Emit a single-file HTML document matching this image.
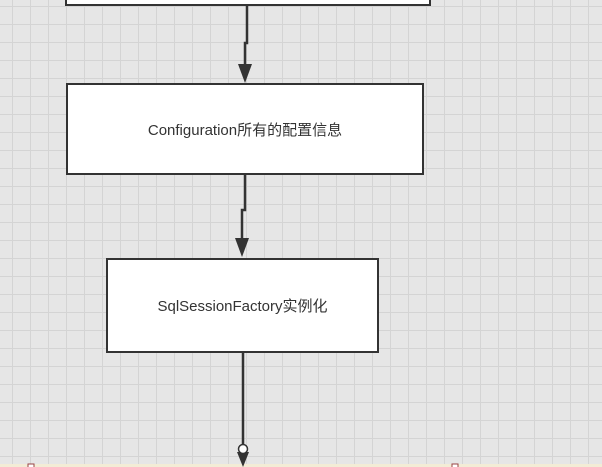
<!DOCTYPE html>
<html><head><meta charset="utf-8"><style>
body{margin:0;width:602px;height:467px;overflow:hidden;background:#e6e6e6;
background-image:linear-gradient(#d4d4d4 1px,transparent 1px),linear-gradient(90deg,#d4d4d4 1px,transparent 1px);
background-size:18px 18px;background-position:12px 6px;font-family:"Liberation Sans","Noto Sans CJK SC",sans-serif;}
.b{position:absolute;background:#fff;border:2px solid #333;box-sizing:border-box;display:flex;align-items:center;justify-content:center;font-size:15px;color:#333}
</style></head><body>
<div class="b" style="left:65px;top:-20px;width:366px;height:26px"></div>
<div class="b" style="left:66px;top:83px;width:358px;height:92px">Configuration所有的配置信息</div>
<div class="b" style="left:106px;top:258px;width:273px;height:95px">SqlSessionFactory实例化</div>
<div style="position:absolute;left:0;top:464px;width:602px;height:3px;background:#f3ecd6"></div>
<svg width="602" height="467" style="position:absolute;left:0;top:0">
<g stroke="#333" stroke-width="2.5" fill="none">
<path d="M247 5V43H245V66"/>
<path d="M245 175V210H242V240"/>
<path d="M243 353V444"/>
</g>
<g fill="#333">
<path d="M238 64L252 64L245 83Z"/>
<path d="M235 238L249 238L242 257Z"/>
<path d="M237 452L249 452L243 467Z"/>
</g>
<circle cx="243" cy="449" r="4.5" fill="#fff" stroke="#333" stroke-width="1.5"/>
<rect x="28" y="464" width="6" height="6" fill="#fff" stroke="#944" stroke-width="1"/>
<rect x="452" y="464" width="6" height="6" fill="#fff" stroke="#944" stroke-width="1"/>
</svg>
</body></html>
